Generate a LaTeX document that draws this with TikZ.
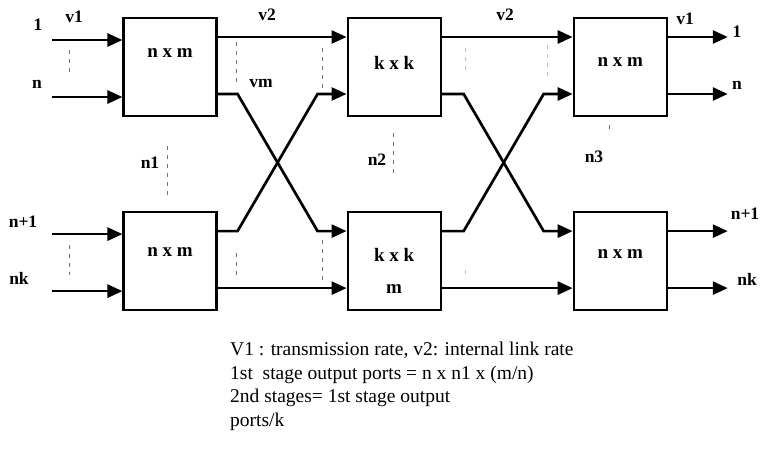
\documentclass[tikz,border=0pt]{standalone}
\usepackage{fontspec}
\setmainfont{Liberation Serif}
\usepackage{tikz}
\usetikzlibrary{arrows.meta, positioning, calc}

\begin{document}
\begin{tikzpicture}[
		x=1pt, y=-1pt,
		%--- Node Styles ---------------------------------------------------
		switch/.style={
			rectangle,
			draw=black,
			line width=2.1pt,
			minimum width=93pt,
			minimum height=98pt,
			inner sep=0pt
		},
		swlabel/.style={
			font=\fontsize{19}{21}\selectfont\bfseries
		},
		portlabel/.style={
			font=\fontsize{17.5}{19}\selectfont\bfseries
		},
		note/.style={
			font=\fontsize{19.5}{23.5}\selectfont,
			align=left,
			anchor=north west,
			inner sep=0pt
		},
		%--- Arrow Styles --------------------------------------------------
		link/.style={
			-{Triangle[length=15pt,width=13pt]},
			line width=2.7pt,
			draw=black
		},
		gap/.style={
			dash pattern=on 4pt off 5pt,
			line width=0.8pt,
			draw=black!55
		}
		]
		
		\useasboundingbox (0,0) rectangle (763,456);
		
		%--- Switch Nodes (two rows, three stages) -----------------------------
		
		\node[switch] (s1) at (170,67) {};
		\node[switch, right=129pt of s1] (s2) {};
		\node[switch, right=131pt of s2] (s3) {};
		
		\node[switch, below=94pt of s1] (s4) {};
		\node[switch, below=94pt of s2] (s5) {};
		\node[switch, below=94pt of s3] (s6) {};
		
		%--- Switch Labels -----------------------------------------------------
		
		\node[swlabel] (t1) at ($(s1)+(0,-14)$) {n x m};
		\node[swlabel] (t2) at ($(s2)+(0,-4)$)  {k x k};
		\node[swlabel] (t3) at ($(s3)+(0,-5)$)  {n x m};
		\node[swlabel] (t4) at ($(s4)+(0,-9)$)  {n x m};
		\node[swlabel] (t5) at ($(s5)+(0,-6)$)  {k x k};
		\node[swlabel] (t5m) at ($(s5)+(0,28)$) {m};
		\node[swlabel] (t6) at ($(s6)+(0,-7)$)  {n x m};
		
		%--- Input and Output Arrows -------------------------------------------
		
		\foreach \s in {s1,s4}
		\foreach \dy in {-27,30}
		\draw[link] ($(\s.west)+(-70,\dy)$) -- ($(\s.west)+(0,\dy)$);
		
		\foreach \s in {s3,s6}
		\foreach \dy in {-30,27}
		\draw[link] ($(\s.east)+(0,\dy)$) -- ($(\s.east)+(60,\dy)$);
		
		%--- Straight Links ----------------------------------------------------
		
		\draw[link] ($(s1.east)+(0,-30)$) -- ($(s2.west)+(0,-30)$);
		\draw[link] ($(s2.east)+(0,-30)$) -- ($(s3.west)+(0,-30)$);
		\draw[link] ($(s4.east)+(0,27)$)  -- ($(s5.west)+(0,27)$);
		\draw[link] ($(s5.east)+(0,27)$)  -- ($(s6.west)+(0,27)$);
		
		%--- Crossing Links ----------------------------------------------------
		
		\draw[link] ($(s1.east)+(0,27)$) -- ++(20,0)
		-- ($(s5.west)+(-29,-30)$) -- ($(s5.west)+(0,-30)$);
		\draw[link] ($(s4.east)+(0,-30)$) -- ++(20,0)
		-- ($(s2.west)+(-29,27)$) -- ($(s2.west)+(0,27)$);
		\draw[link] ($(s2.east)+(0,27)$) -- ++(22,0)
		-- ($(s6.west)+(-29,-30)$) -- ($(s6.west)+(0,-30)$);
		\draw[link] ($(s5.east)+(0,-30)$) -- ++(22,0)
		-- ($(s3.west)+(-29,27)$) -- ($(s3.west)+(0,27)$);
		
		%--- Port and Rate Labels ----------------------------------------------
		
		\node[portlabel] (in1)  at (38,25)  {1};
		\node[portlabel] (inn)  at (37,84)  {n};
		\node[portlabel] (inn1) at (23,222) {n+1};
		\node[portlabel] (innk) at (19,278) {nk};
		\node[portlabel] (rv1)  at (74,17)  {v1};
		\node[portlabel] (rv2a) at (267,15) {v2};
		\node[portlabel] (rvm)  at (261,83) {vm};
		\node[portlabel] (rv2b) at (505,15) {v2};
		\node[portlabel] (rv1b) at (685,19) {v1};
		\node[portlabel] (out1)  at (737,32)  {1};
		\node[portlabel] (outn)  at (737,85)  {n};
		\node[portlabel] (outn1) at (745,214) {n+1};
		\node[portlabel] (outnk) at (747,279) {nk};
		\node[portlabel] (c1) at (150,163) {n1};
		\node[portlabel] (c2) at (377,160) {n2};
		\node[portlabel] (c3) at (594,157) {n3};
		
		%--- Ellipsis Marks (dashed) -------------------------------------------
		
		\draw[gap] (69,50)   -- (69,73);
		\draw[gap] (69,245)  -- (69,275);
		\draw[gap] (236,42)  -- (236,82);
		\draw[gap] (322,48)  -- (322,88);
		\draw[gap] (236,253) -- (236,277);
		\draw[gap] (322,240) -- (322,280);
		\draw[gap] (167,146) -- (167,200);
		\draw[gap] (393,133) -- (393,175);
		\draw[gap] (609,125) -- (609,134);
		\draw[gap, draw=black!25] (465,48)  -- (465,72);
		\draw[gap, draw=black!25] (547,45)  -- (547,80);
		\draw[gap, draw=black!25] (465,270) -- (465,278);
		
		%--- Notes Below -------------------------------------------------------
		
		\node[note] (notes) at (230,342)
		{V1 : transmission rate, v2: internal link rate\\
			1st~ stage output ports = n x n1 x (m/n)\\
			2nd stages= 1st stage output\\
			ports/k};
		
	\end{tikzpicture}
\end{document}
